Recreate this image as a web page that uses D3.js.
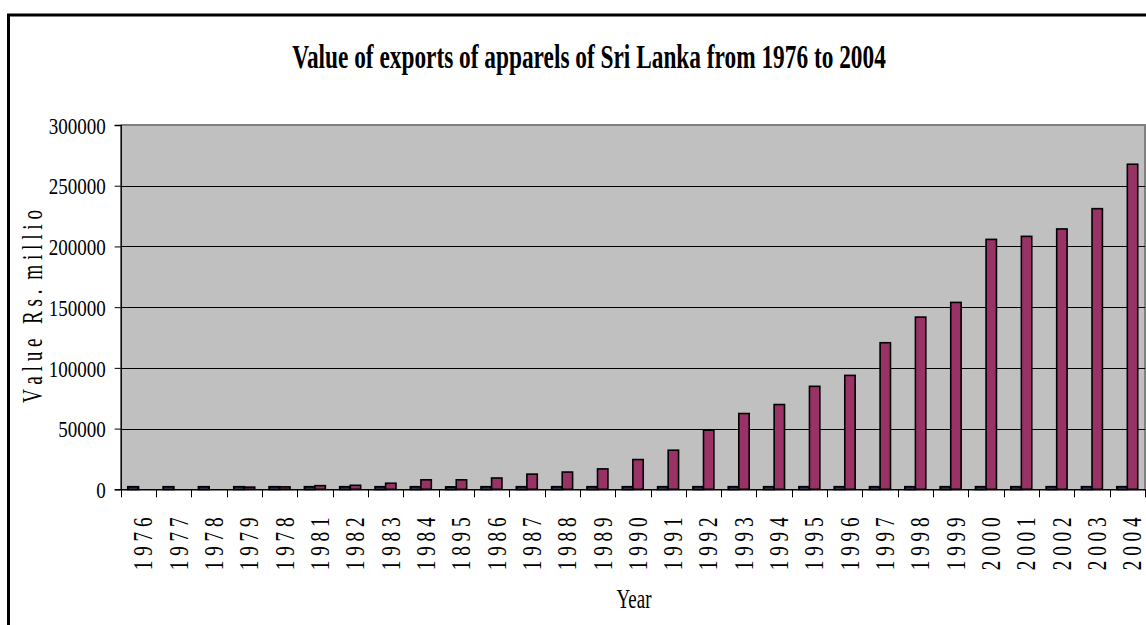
<!DOCTYPE html>
<html>
<head>
<meta charset="utf-8">
<script src="https://cdn.jsdelivr.net/npm/d3@7"></script>
<style>
  html, body { margin: 0; padding: 0; background: #ffffff; }
  svg { display: block; }
  text { font-family: "Liberation Serif", "Times New Roman", serif; fill: #000; white-space: pre; }
</style>
</head>
<body>
<svg id="chart" width="1146" height="625"></svg>
<script>
// Category labels as printed on the x axis
const yearLabels = ["1976","1977","1978","1979","1978","1981","1982","1983","1984","1895",
  "1986","1987","1988","1989","1990","1991","1992","1993","1994","1995",
  "1996","1997","1998","1999","2000","2001","2002","2003","2004"];

// First series: the year column itself (plotted as values)
const yearSeries = [1976,1977,1978,1979,1978,1981,1982,1983,1984,1895,
  1986,1987,1988,1989,1990,1991,1992,1993,1994,1995,
  1996,1997,1998,1999,2000,2001,2002,2003,2004];

// Second series: value of apparel exports, Rs. million
const apparelValues = [0,0,0,1800,2000,3000,3300,5000,7800,7800,
  9300,12500,14200,16800,24500,32200,48700,62400,69800,84800,
  93800,120700,141800,153900,205800,208300,214400,231100,267700];

const yTicks = [0,50000,100000,150000,200000,250000,300000];

const svg = d3.select("#chart");

// Outer chart frame
svg.append("rect")
  .attr("x", 8.5).attr("y", 15)
  .attr("width", 1200).attr("height", 640)
  .attr("fill", "none").attr("stroke", "#000").attr("stroke-width", 3);

const plot = { left: 120.7, right: 1145, top: 125, bottom: 489.3 };

const y = d3.scaleLinear().domain([0, 300000]).range([plot.bottom, plot.top]);
const x0 = d3.scaleBand().domain(d3.range(yearLabels.length))
  .range([plot.left, plot.right]).paddingInner(0).paddingOuter(0);
const x1 = d3.scaleBand().domain(["year", "apparel"])
  .range([0, x0.bandwidth()]).paddingInner(0).paddingOuter(0.7);

// Plot background
svg.append("rect")
  .attr("x", plot.left).attr("y", plot.top)
  .attr("width", plot.right - plot.left).attr("height", plot.bottom - plot.top)
  .attr("fill", "#c0c0c0");

// Plot-area border (top and right)
svg.append("path")
  .attr("d", `M${plot.left},${plot.top}H${plot.right}V${plot.bottom}`)
  .attr("fill", "none").attr("stroke", "#808080").attr("stroke-width", 2);

// Horizontal gridlines
svg.append("g").selectAll("line")
  .data(yTicks.filter(t => t > 0 && t < 300000))
  .join("line")
  .attr("x1", plot.left).attr("x2", plot.right)
  .attr("y1", d => Math.round(y(d)) + 0.5).attr("y2", d => Math.round(y(d)) + 0.5)
  .attr("stroke", "#000").attr("stroke-width", 1);

// Bars
const groups = svg.append("g").selectAll("g")
  .data(d3.range(yearLabels.length))
  .join("g")
  .attr("transform", i => `translate(${x0(i)},0)`);

groups.append("rect")
  .attr("x", x1("year")).attr("width", x1.bandwidth())
  .attr("y", i => y(yearSeries[i])).attr("height", i => y(0) - y(yearSeries[i]))
  .attr("fill", "#9999ff").attr("stroke", "#000").attr("stroke-width", 2);

groups.filter(i => apparelValues[i] > 0).append("rect")
  .attr("x", x1("apparel")).attr("width", x1.bandwidth())
  .attr("y", i => y(apparelValues[i])).attr("height", i => y(0) - y(apparelValues[i]))
  .attr("fill", "#993366").attr("stroke", "#000").attr("stroke-width", 1.6);

// Y axis
const yAxis = svg.append("g")
  .attr("transform", `translate(${plot.left},0)`)
  .call(d3.axisLeft(y).tickValues(yTicks).tickSize(6).tickPadding(9).tickFormat(d3.format("d")));
yAxis.select(".domain").attr("stroke", "#000").attr("stroke-width", 1.5);
yAxis.selectAll(".tick line").attr("stroke", "#000");
yAxis.selectAll(".tick text")
  .attr("font-size", 24)
  .attr("font-family", "Liberation Serif")
  .attr("dy", "0.34em")
  .attr("textLength", d => String(d).length * 9.5)
  .attr("lengthAdjust", "spacingAndGlyphs");

// X axis
const xAxis = svg.append("g")
  .attr("transform", `translate(0,${plot.bottom})`)
  .call(d3.axisBottom(x0).tickSize(0).tickFormat(i => yearLabels[i]));
xAxis.select(".domain").attr("stroke", "#000").attr("stroke-width", 1.5);
xAxis.selectAll(".tick text")
  .attr("font-size", 28)
  .attr("font-family", "Liberation Serif")
  .attr("text-anchor", "start")
  .attr("x", 0).attr("y", 0).attr("dy", 0)
  .attr("transform", "translate(14,81) rotate(-90)")
  .attr("textLength", 53)
  .attr("lengthAdjust", "spacingAndGlyphs")
  .text(i => yearLabels[i].split("").join(" "));

// Category tick marks at band boundaries
svg.append("g").selectAll("line")
  .data(d3.range(yearLabels.length + 1))
  .join("line")
  .attr("x1", i => Math.round(plot.left + i * x0.step()) + 0.5)
  .attr("x2", i => Math.round(plot.left + i * x0.step()) + 0.5)
  .attr("y1", plot.bottom).attr("y2", plot.bottom + 8)
  .attr("stroke", "#000").attr("stroke-width", 1);

// Title: condensed horizontally to a fixed width
const title = svg.append("text")
  .attr("text-anchor", "middle")
  .attr("font-size", 34).attr("font-weight", "bold")
  .text("Value of exports of apparels of Sri Lanka from 1976 to 2004");
const titleScale = 594 / title.node().getComputedTextLength();
title.attr("transform", `translate(589,68) scale(${titleScale},1)`);

// Axis titles
svg.append("text")
  .attr("transform", "translate(42,306.5) rotate(-90)")
  .attr("text-anchor", "middle")
  .attr("font-size", 30)
  .attr("textLength", 193).attr("lengthAdjust", "spacingAndGlyphs")
  .text("V a l u e   R s .  m i l l i o");

svg.append("text")
  .attr("x", 634).attr("y", 608)
  .attr("text-anchor", "middle")
  .attr("font-size", 27)
  .attr("textLength", 35).attr("lengthAdjust", "spacingAndGlyphs")
  .text("Year");
</script>
</body>
</html>
